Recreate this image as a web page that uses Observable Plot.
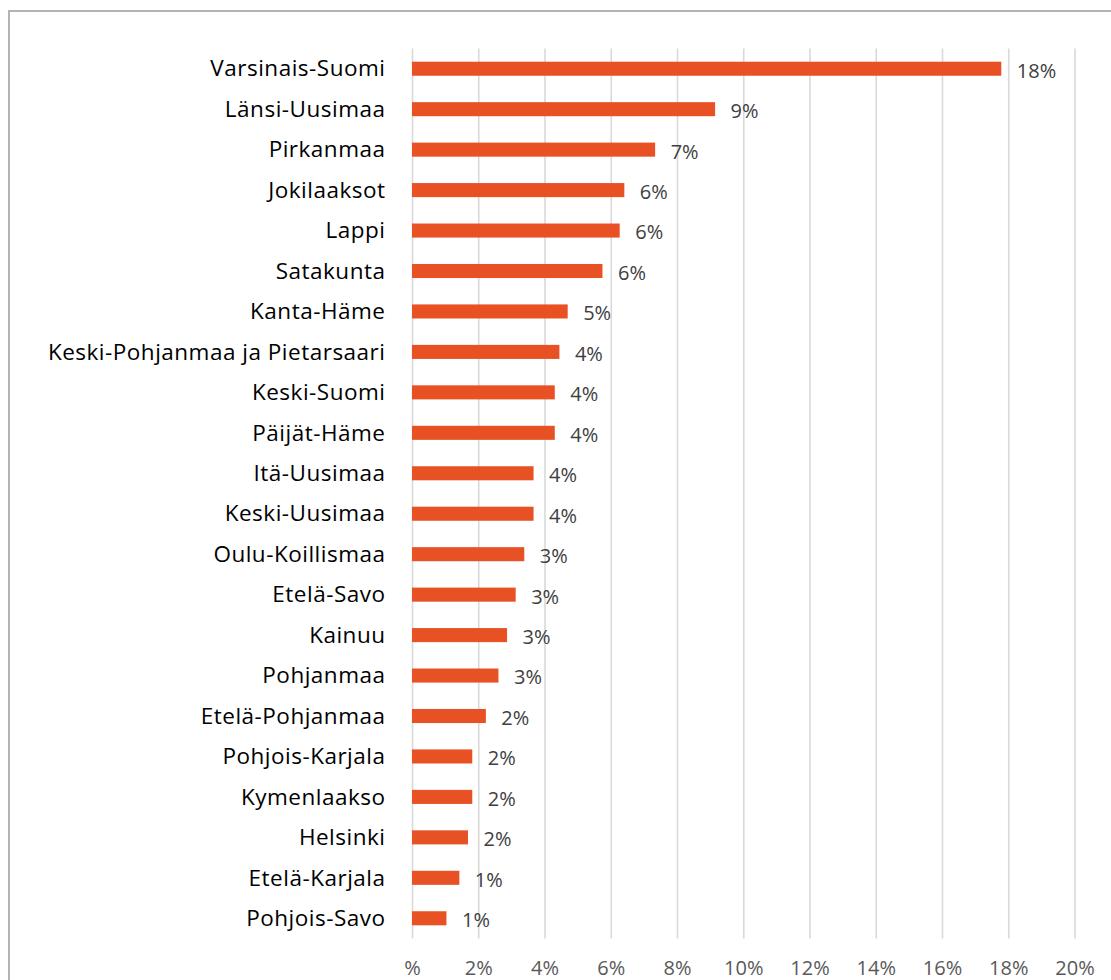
<!DOCTYPE html>
<html><head><meta charset="utf-8">
<script src="https://cdn.jsdelivr.net/npm/d3@7"></script>
<script src="https://cdn.jsdelivr.net/npm/@observablehq/plot@0.6"></script>
<style>
html,body{margin:0;padding:0;background:#fff;}
#wrap{position:relative;width:1111px;height:980px;overflow:hidden;}
#frame{position:absolute;left:8px;top:10px;width:1200px;height:1200px;border-left:2px solid #b3b3b3;border-top:2px solid #b3b3b3;box-sizing:border-box;}
#chart{position:absolute;left:0;top:0;}
#chart svg g[aria-label="y-axis tick label"] text{letter-spacing:0.5px;}
</style></head>
<body>
<div id="wrap"><div id="frame"></div><div id="chart"></div></div>
<script>
const regions = ["Varsinais-Suomi","Länsi-Uusimaa","Pirkanmaa","Jokilaaksot","Lappi","Satakunta","Kanta-Häme","Keski-Pohjanmaa ja Pietarsaari","Keski-Suomi","Päijät-Häme","Itä-Uusimaa","Keski-Uusimaa","Oulu-Koillismaa","Etelä-Savo","Kainuu","Pohjanmaa","Etelä-Pohjanmaa","Pohjois-Karjala","Kymenlaakso","Helsinki","Etelä-Karjala","Pohjois-Savo"];
const shares = [17.79,9.15,7.34,6.41,6.27,5.75,4.70,4.45,4.31,4.31,3.67,3.67,3.39,3.13,2.87,2.61,2.23,1.82,1.82,1.69,1.43,1.04];
const xTicks = [0,2,4,6,8,10,12,14,16,18,20];

const data = regions.map((r,i)=>({region:r, value:shares[i]}));
const font = "'Open Sans', sans-serif";

const chart = Plot.plot({
  width:1111, height:980,
  marginLeft:412, marginRight:36.5, marginTop:48.5, marginBottom:41.5,
  style:{fontFamily:font, background:"transparent", overflow:"visible"},
  x:{domain:[0,20], label:null},
  y:{domain:regions, label:null, padding:0, round:false},
  marks:[
    Plot.ruleX(xTicks,{stroke:"#d9d9d9", strokeWidth:1.6}),
    Plot.axisX(xTicks,{anchor:"bottom", tickSize:0, tickPadding:22, fontSize:20, fill:"#595959",
      tickFormat:d => d===0 ? "%" : d+"%", label:null}),
    Plot.axisY({anchor:"left", tickSize:0, tickPadding:27, fontSize:22.5, fill:"#000", label:null}),
    Plot.barX(data,{x:"value", y:"region", fill:"#E85124", insetTop:13.2, insetBottom:13.2}),
    Plot.text(data,{x:"value", y:"region", text:d=>Math.round(d.value)+"%", textAnchor:"start", dx:15, dy:2, fontSize:20, fill:"#404040"})
  ]
});
document.getElementById("chart").appendChild(chart);
</script>
</body></html>
